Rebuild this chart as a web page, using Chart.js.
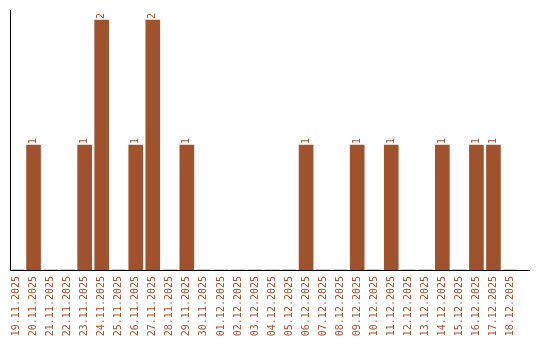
<!DOCTYPE html>
<html>
<head>
<meta charset="utf-8">
<script src="https://cdn.jsdelivr.net/npm/chart.js@4/dist/chart.umd.min.js"></script>
<style>
  html, body { margin: 0; padding: 0; background: #fff; }
  #wrap { width: 540px; height: 340px; }
</style>
</head>
<body>
<div id="wrap"><canvas id="chart" width="540" height="340"></canvas></div>
<script>
const days = [
  '19.11.2025', '20.11.2025', '21.11.2025', '22.11.2025', '23.11.2025',
  '24.11.2025', '25.11.2025', '26.11.2025', '27.11.2025', '28.11.2025',
  '29.11.2025', '30.11.2025', '01.12.2025', '02.12.2025', '03.12.2025',
  '04.12.2025', '05.12.2025', '06.12.2025', '07.12.2025', '08.12.2025',
  '09.12.2025', '10.12.2025', '11.12.2025', '12.12.2025', '13.12.2025',
  '14.12.2025', '15.12.2025', '16.12.2025', '17.12.2025', '18.12.2025'
];
const counts = [
  0, 1, 0, 0, 1,
  2, 0, 1, 2, 0,
  1, 0, 0, 0, 0,
  0, 0, 1, 0, 0,
  1, 0, 1, 0, 0,
  1, 0, 1, 1, 0
];

const barColor = '#A0522D';
const font = { family: 'DejaVu Sans Mono', size: 10 };

// value labels written upwards above each bar
const valueLabels = {
  id: 'valueLabels',
  afterDatasetsDraw(chart) {
    const ctx = chart.ctx;
    const meta = chart.getDatasetMeta(0);
    ctx.save();
    ctx.fillStyle = barColor;
    ctx.font = font.size + 'px ' + font.family;
    meta.data.forEach((bar, i) => {
      if (!counts[i]) return;
      ctx.save();
      ctx.translate(bar.x, bar.y - 1);
      ctx.rotate(-Math.PI / 2);
      ctx.textAlign = 'left';
      ctx.textBaseline = 'middle';
      ctx.fillText(String(counts[i]), 0, 0);
      ctx.restore();
    });
    ctx.restore();
  }
};

// axis lines: the y line sits a bit inside the first slot, the x line runs past the last one
const axisLines = {
  id: 'axisLines',
  afterDraw(chart) {
    const ctx = chart.ctx;
    const a = chart.chartArea;
    ctx.save();
    ctx.strokeStyle = '#000';
    ctx.lineWidth = 1;
    ctx.beginPath();
    ctx.moveTo(10.5, a.top);
    ctx.lineTo(10.5, a.bottom + 0.5);
    ctx.lineTo(530, a.bottom + 0.5);
    ctx.stroke();
    ctx.restore();
  }
};

new Chart(document.getElementById('chart'), {
  type: 'bar',
  data: {
    labels: days,
    datasets: [{
      data: counts,
      backgroundColor: barColor,
      barThickness: 14
    }]
  },
  options: {
    responsive: false,
    animation: false,
    events: [],
    layout: { padding: { left: 8, top: 10, right: 21, bottom: 0 } },
    plugins: { legend: { display: false }, tooltip: { enabled: false } },
    scales: {
      x: {
        offset: true,
        grid: { display: false, drawTicks: false },
        border: { display: false },
        ticks: {
          color: barColor,
          font: font,
          minRotation: 90,
          maxRotation: 90,
          autoSkip: false,
          padding: 6
        },
        afterFit(scale) { scale.height = 70; }
      },
      y: {
        min: 0,
        max: 2.08,
        grid: { display: false, drawTicks: false },
        border: { display: false },
        ticks: { display: false },
        afterFit(scale) { scale.width = 0; }
      }
    }
  },
  plugins: [valueLabels, axisLines]
});
</script>
</body>
</html>
